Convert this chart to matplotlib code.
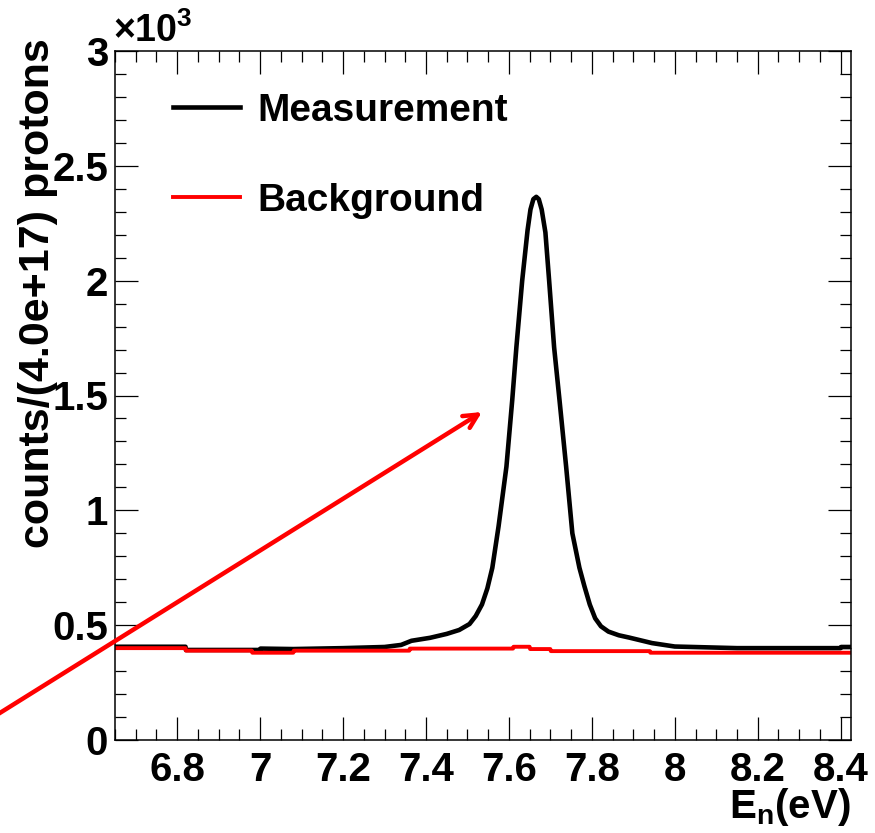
import numpy as np
import matplotlib
matplotlib.use("Agg")
import matplotlib.pyplot as plt
from matplotlib.ticker import MultipleLocator, FuncFormatter

plt.rcParams['font.family'] = ['Liberation Sans', 'DejaVu Sans']
plt.rcParams['font.weight'] = 'bold'
plt.rcParams['mathtext.fontset'] = 'custom'
plt.rcParams['mathtext.rm'] = 'Liberation Sans:bold'
plt.rcParams['mathtext.bf'] = 'Liberation Sans:bold'

# measurement (counts per 4.0e17 protons) vs neutron energy (eV)
meas_e = [6.650, 6.820, 6.821, 7.000, 7.001, 7.080, 7.200, 7.300, 7.340, 7.365,
          7.410, 7.450, 7.480, 7.505, 7.520, 7.535, 7.548, 7.560, 7.575, 7.594,
          7.608, 7.618, 7.632, 7.645, 7.652, 7.659, 7.666, 7.672, 7.679, 7.688,
          7.697, 7.709, 7.722, 7.738, 7.753, 7.770, 7.782, 7.795, 7.808, 7.822,
          7.840, 7.865, 7.890, 7.945, 8.000, 8.150, 8.400, 8.401, 8.425]
meas_c = [406, 406, 392, 392, 398, 396, 400, 405, 414, 432,
          445, 462, 479, 505, 540, 590, 660, 750, 930, 1190,
          1480, 1710, 2000, 2220, 2310, 2355, 2365, 2355, 2310, 2210,
          2000, 1710, 1480, 1190, 900, 750, 670, 590, 530, 495,
          472, 456, 446, 422, 407, 400, 400, 405, 405]

# background
bkg_e = [6.650, 6.820, 6.821, 6.980, 6.981, 7.080, 7.081, 7.360, 7.361, 7.610,
         7.611, 7.650, 7.651, 7.700, 7.701, 7.940, 7.941, 8.425]
bkg_c = [400, 400, 389, 389, 380, 380, 389, 389, 398, 398,
         406, 406, 396, 396, 387, 387, 380, 380]

fig = plt.figure(figsize=(8.75, 8.33), dpi=100)
ax = fig.add_axes([115/875, 1-740/833, 736/875, 689/833])

ax.plot(meas_e, meas_c, color='black', lw=3.3, label='Measurement')
ax.plot(bkg_e, bkg_c, color='red', lw=2.8, label='Background')

ax.set_xlim(6.65, 8.425)
ax.set_ylim(0, 3000)
ax.xaxis.set_major_locator(MultipleLocator(0.2))
ax.xaxis.set_minor_locator(MultipleLocator(0.05))
ax.yaxis.set_major_locator(MultipleLocator(500))
ax.yaxis.set_minor_locator(MultipleLocator(100))
ax.xaxis.set_major_formatter(FuncFormatter(lambda v, p: '%g' % round(v, 2)))
ax.yaxis.set_major_formatter(FuncFormatter(lambda v, p: '%g' % (v / 1000)))
ax.tick_params(which='both', direction='in', top=True, right=True, width=0.9,
               labelsize=29)
ax.tick_params(which='major', length=16.5)
ax.tick_params(which='minor', length=8)
ax.tick_params(axis='x', pad=8)
ax.tick_params(axis='y', pad=5)
for s in ax.spines.values():
    s.set_linewidth(1.1)

leg = ax.legend(loc='upper left', bbox_to_anchor=(173/875, 1-93/833),
                bbox_transform=fig.transFigure, frameon=False, fontsize=28,
                handlelength=1.72, handletextpad=0.44, labelspacing=1.38,
                borderpad=0, borderaxespad=0)

fig.text(113/875, 1-50/833, r'$\times$10$^{\mathbf{3}}$', fontsize=27,
         ha='left', va='bottom')
fig.text(38/875, 1-38/833, 'counts/(4.0e+17) protons', rotation=90,
         fontsize=31, ha='center', va='top')
fig.text(851/875, 1-828/833, r'E$_{\mathbf{n}}$(eV)', fontsize=29,
         ha='right', va='bottom')

ax.annotate('', xy=(482/875, 1-412/833), xytext=(-5/875, 1-716/833),
            xycoords='figure fraction', textcoords='figure fraction',
            arrowprops=dict(arrowstyle='->,head_length=1.0,head_width=0.5',
                            color='red', lw=3.2, shrinkA=0, shrinkB=0),
            annotation_clip=False)

fig.savefig('out.png', dpi=100)
